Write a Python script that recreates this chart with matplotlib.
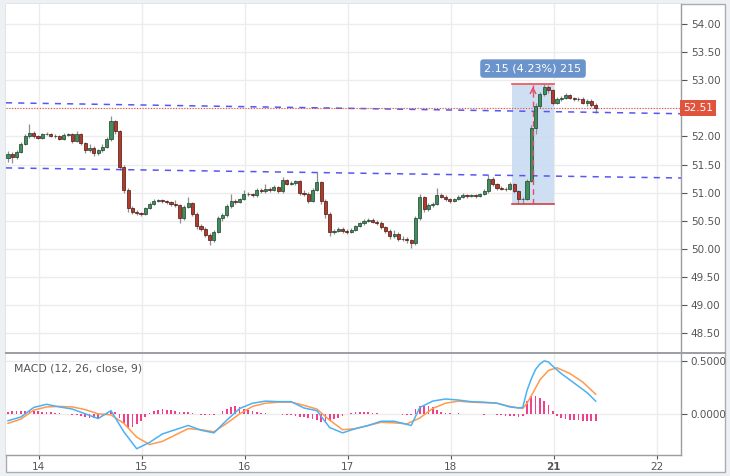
import matplotlib
matplotlib.use("Agg")
import matplotlib.pyplot as plt
from matplotlib.patches import Rectangle
import numpy as np

# ---------------- data (hourly bars) ----------------
opens = [51.62, 51.68, 51.64, 51.72, 51.86, 52.00, 52.06, 52.00, 51.98, 52.04,
         52.05, 52.01, 52.00, 51.96, 52.03, 52.04, 51.92, 52.04, 51.88, 51.75,
         51.80, 51.70, 51.75, 51.82, 51.95, 52.27, 52.10, 51.45, 51.05, 50.72,
         50.66, 50.63, 50.62, 50.72, 50.80, 50.85, 50.86, 50.85, 50.83, 50.80,
         50.78, 50.55, 50.75, 50.82, 50.62, 50.40, 50.36, 50.25, 50.15, 50.30,
         50.55, 50.60, 50.76, 50.85, 50.84, 50.88, 50.98, 50.97, 50.95, 51.05,
         51.02, 51.07, 51.04, 51.10, 51.02, 51.22, 51.16, 51.17, 51.20, 51.00,
         50.98, 50.85, 51.05, 51.18, 50.85, 50.62, 50.30, 50.31, 50.36, 50.32,
         50.30, 50.34, 50.40, 50.45, 50.50, 50.52, 50.48, 50.45, 50.38, 50.32,
         50.22, 50.26, 50.17, 50.18, 50.15, 50.10, 50.55, 50.92, 50.70, 50.78,
         50.80, 50.96, 50.93, 50.88, 50.85, 50.88, 50.93, 50.96, 50.94, 50.95,
         50.94, 50.97, 51.02, 51.25, 51.15, 51.08, 51.07, 51.06, 51.15, 51.03,
         50.88, 50.88, 51.20, 52.15, 52.55, 52.75, 52.88, 52.82, 52.60, 52.66,
         52.69, 52.74, 52.69, 52.67, 52.66, 52.60, 52.64, 52.56]
closes = [51.68, 51.64, 51.72, 51.86, 52.00, 52.06, 52.00, 51.98, 52.04, 52.05,
          52.01, 52.00, 51.96, 52.03, 52.04, 51.92, 52.04, 51.88, 51.75, 51.80,
          51.70, 51.75, 51.82, 51.95, 52.27, 52.10, 51.45, 51.05, 50.72, 50.66,
          50.63, 50.62, 50.72, 50.80, 50.85, 50.86, 50.85, 50.83, 50.80, 50.78,
          50.55, 50.75, 50.82, 50.62, 50.40, 50.36, 50.25, 50.15, 50.30, 50.55,
          50.60, 50.76, 50.85, 50.84, 50.88, 50.98, 50.97, 50.95, 51.05, 51.02,
          51.07, 51.04, 51.10, 51.02, 51.22, 51.16, 51.17, 51.20, 51.00, 50.98,
          50.85, 51.05, 51.18, 50.85, 50.62, 50.30, 50.31, 50.36, 50.32, 50.30,
          50.34, 50.40, 50.45, 50.50, 50.52, 50.48, 50.45, 50.38, 50.32, 50.22,
          50.26, 50.17, 50.18, 50.15, 50.10, 50.55, 50.92, 50.70, 50.78, 50.80,
          50.96, 50.93, 50.88, 50.85, 50.88, 50.93, 50.96, 50.94, 50.95, 50.94,
          50.97, 51.02, 51.25, 51.15, 51.08, 51.07, 51.06, 51.15, 51.03, 50.88,
          50.88, 51.20, 52.15, 52.55, 52.75, 52.88, 52.82, 52.60, 52.66, 52.69,
          52.74, 52.69, 52.67, 52.66, 52.60, 52.64, 52.56, 52.51]
highs = [51.74, 51.72, 51.76, 51.90, 52.05, 52.22, 52.09, 52.03, 52.07, 52.08,
         52.07, 52.04, 52.02, 52.06, 52.07, 52.06, 52.09, 52.06, 51.91, 51.86,
         51.83, 51.78, 51.86, 51.99, 52.37, 52.30, 52.12, 51.50, 51.08, 50.76,
         50.69, 50.66, 50.75, 50.83, 50.88, 50.89, 50.88, 50.87, 50.85, 50.86,
         50.80, 50.78, 50.93, 50.84, 50.65, 50.44, 50.39, 50.28, 50.33, 50.58,
         50.64, 50.79, 50.98, 50.88, 50.91, 51.05, 51.01, 51.00, 51.08, 51.08,
         51.15, 51.10, 51.13, 51.12, 51.28, 51.24, 51.20, 51.23, 51.22, 51.04,
         51.01, 51.08, 51.37, 51.20, 50.88, 50.65, 50.35, 50.39, 50.39, 50.35,
         50.37, 50.43, 50.48, 50.53, 50.55, 50.55, 50.51, 50.49, 50.41, 50.35,
         50.33, 50.29, 50.22, 50.21, 50.18, 50.58, 50.97, 50.94, 50.81, 50.84,
         51.08, 50.99, 50.95, 50.90, 50.91, 50.96, 50.99, 50.98, 50.98, 50.97,
         51.00, 51.06, 51.32, 51.27, 51.17, 51.11, 51.10, 51.18, 51.17, 51.05,
         50.92, 51.24, 52.20, 52.60, 52.80, 52.94, 52.92, 52.84, 52.70, 52.72,
         52.77, 52.76, 52.71, 52.70, 52.70, 52.67, 52.66, 52.59]
lows = [51.55, 51.52, 51.60, 51.70, 51.84, 51.98, 51.97, 51.95, 51.96, 52.02,
        51.99, 51.97, 51.93, 51.94, 52.00, 51.89, 51.90, 51.84, 51.70, 51.72,
        51.66, 51.67, 51.72, 51.80, 51.92, 52.05, 51.40, 51.00, 50.66, 50.62,
        50.60, 50.59, 50.60, 50.70, 50.78, 50.83, 50.82, 50.80, 50.77, 50.75,
        50.45, 50.52, 50.72, 50.58, 50.36, 50.32, 50.20, 50.06, 50.12, 50.28,
        50.50, 50.57, 50.73, 50.80, 50.81, 50.86, 50.94, 50.92, 50.93, 50.99,
        51.00, 51.01, 51.02, 50.99, 51.00, 51.13, 51.13, 51.14, 50.96, 50.94,
        50.82, 50.83, 51.03, 50.80, 50.55, 50.22, 50.27, 50.29, 50.28, 50.27,
        50.28, 50.32, 50.38, 50.43, 50.48, 50.45, 50.42, 50.35, 50.28, 50.18,
        50.19, 50.13, 50.14, 50.11, 50.02, 50.07, 50.52, 50.66, 50.67, 50.75,
        50.78, 50.90, 50.85, 50.82, 50.83, 50.86, 50.91, 50.91, 50.92, 50.91,
        50.92, 50.95, 51.00, 51.12, 51.05, 51.04, 51.03, 51.04, 51.00, 50.80,
        50.79, 50.86, 51.18, 52.05, 52.50, 52.72, 52.78, 52.56, 52.57, 52.63,
        52.66, 52.66, 52.64, 52.63, 52.57, 52.55, 52.52, 52.42]

# MACD (12, 26, close, 9) values
macd_bars = [0, 3, 6, 9, 12, 15, 18, 21, 24, 27, 30, 33, 36, 39, 42, 45, 48, 51,
             54, 57, 60, 63, 66, 69, 72, 75, 78, 81, 84, 87, 90, 94, 96, 99, 102,
             105, 108, 111, 114, 117, 119, 120, 121, 122, 123, 124, 125, 126, 127,
             129, 132, 135, 137]
macd_vals = [-0.065, -0.03, 0.06, 0.09, 0.065, 0.045, 0.0, -0.045, 0.03, -0.17,
             -0.33, -0.27, -0.19, -0.15, -0.11, -0.155, -0.18, -0.06, 0.05, 0.10,
             0.12, 0.115, 0.115, 0.055, 0.03, -0.13, -0.18, -0.14, -0.11, -0.07,
             -0.07, -0.11, 0.06, 0.12, 0.14, 0.13, 0.115, 0.11, 0.10, 0.065, 0.055,
             0.06, 0.22, 0.33, 0.42, 0.47, 0.50, 0.49, 0.45, 0.38, 0.29, 0.20, 0.12]
signal_bars = [0, 3, 6, 9, 12, 15, 18, 21, 24, 27, 30, 33, 36, 39, 42, 45, 48, 51,
               54, 57, 60, 63, 66, 69, 72, 75, 78, 81, 84, 87, 90, 93, 96, 99, 102,
               105, 108, 111, 114, 117, 120, 121, 122, 124, 126, 128, 131, 134, 137]
signal_vals = [-0.09, -0.05, 0.035, 0.065, 0.07, 0.065, 0.04, 0.0, -0.01, -0.09,
               -0.22, -0.29, -0.26, -0.20, -0.14, -0.15, -0.17, -0.09, 0.0, 0.07,
               0.10, 0.11, 0.11, 0.08, 0.045, -0.06, -0.15, -0.14, -0.11, -0.08,
               -0.085, -0.095, -0.04, 0.05, 0.10, 0.12, 0.11, 0.105, 0.10, 0.07,
               0.05, 0.10, 0.17, 0.32, 0.41, 0.435, 0.38, 0.30, 0.185]
hist_vals = [0.02, 0.025, 0.03, 0.03, 0.03, 0.03, 0.025, 0.025, 0.02, 0.02,
             0.015, 0.01, 0.005, 0.0,
             -0.005, -0.01, -0.015, -0.02, -0.03, -0.035, -0.04, -0.035, -0.02,
             0.01, 0.03, 0.02,
             -0.04, -0.09, -0.13, -0.12, -0.10, -0.07, -0.03,
             0.01, 0.03, 0.04, 0.045, 0.04, 0.035, 0.03, 0.02, 0.02, 0.015, 0.01,
             -0.005, -0.01, -0.015, -0.015, -0.01, 0.0,
             0.03, 0.05, 0.06, 0.07, 0.065, 0.05, 0.035, 0.025,
             0.015, 0.01, 0.005, 0.0, -0.005, -0.005,
             -0.01, -0.01, -0.015, -0.02, -0.03, -0.03,
             -0.04, -0.05, -0.06, -0.08, -0.08, -0.07, -0.05,
             -0.035, -0.02, 0.0, 0.01, 0.02, 0.02,
             0.02, 0.015, 0.01, 0.005, 0.0, 0.0, -0.005, 0.0, -0.005, -0.01, -0.01, -0.015,
             0.05, 0.07, 0.075, 0.07, 0.06, 0.04, 0.02,
             0.01, 0.005, 0.0, 0.005, 0.0,
             0.0, -0.005, 0.0, -0.005, -0.01, 0.0, -0.005, -0.01, -0.015, -0.02, -0.02,
             -0.025, -0.03, -0.02,
             0.12, 0.17, 0.165, 0.15, 0.12, 0.08, 0.03,
             -0.02, -0.04, -0.05, -0.055, -0.06, -0.06, -0.065, -0.065, -0.07, -0.065]

day_labels = ["14", "15", "16", "17", "18", "21", "22"]
day_positions = [7.2, 31.2, 55.2, 79.2, 103.2, 127.2, 151.2]
price_ticks = [48.5, 49.0, 49.5, 50.0, 50.5, 51.0, 51.5, 52.0, 52.5, 53.0, 53.5, 54.0]
macd_ticks = [0.0, 0.5]

last_price = 52.51
upper_trend = [(-0.47, 52.60), (156.9, 52.405)]
lower_trend = [(-0.47, 51.44), (156.9, 51.26)]
measure_x = (117.5, 127.3)
measure_y = (50.79, 52.94)
measure_mid = 122.4
measure_text = "2.15 (4.23%) 215"

# ---------------- figure ----------------
W, H = 730, 476
fig = plt.figure(figsize=(W / 100, H / 100), dpi=100)
fig.patch.set_facecolor("#eef1f4")

def fx(px):
    return px / W

def fy(py):
    return 1 - py / H

fig.patches.append(Rectangle((fx(6), fy(472)), fx(725) - fx(6), fy(4) - fy(472),
                             transform=fig.transFigure, facecolor="white",
                             edgecolor="#a8adb3", lw=1.0, zorder=-10))

ax = fig.add_axes([fx(6), fy(352), fx(681) - fx(6), fy(4) - fy(352)])
axm = fig.add_axes([fx(6), fy(455), fx(681) - fx(6), fy(354) - fy(455)])
ax.set_zorder(2)
axm.set_zorder(2)

xs = np.arange(len(closes))
o = np.array(opens); c = np.array(closes); h = np.array(highs); l = np.array(lows)
up = c >= o
xmin, xmax = -0.47, 156.9

grid_c = "#ececec"
for a in (ax, axm):
    a.set_xlim(xmin, xmax)
    a.set_facecolor("white")
    for sp in a.spines.values():
        sp.set_color("#9a9ea3")
        sp.set_linewidth(1.0)
    a.spines["left"].set_visible(False)
    a.spines["top"].set_visible(False)
    for d in day_positions:
        a.axvline(d, color=grid_c, lw=1.0, zorder=0)
    a.yaxis.tick_right()
    a.tick_params(axis="y", colors="#555555", labelsize=7.5, length=4, width=0.8,
                  direction="out", pad=3)

# price pane
ax.set_ylim(48.16, 54.36)
ax.set_yticks(price_ticks)
ax.set_yticklabels(["" if abs(t - last_price) < 0.1 else "%.2f" % t for t in price_ticks])
for t in price_ticks:
    ax.axhline(t, color=grid_c, lw=1.0, zorder=0)
ax.set_xticks([])
ax.spines["bottom"].set_visible(False)

ax.plot([p[0] for p in upper_trend], [p[1] for p in upper_trend],
        color="#5656f2", lw=1.1, ls=(0, (4, 4)), zorder=3)
ax.plot([p[0] for p in lower_trend], [p[1] for p in lower_trend],
        color="#5656f2", lw=1.1, ls=(0, (4, 4)), zorder=3)
ax.axhline(last_price, color="#e0533d", lw=0.8, ls=(0, (1, 1.5)), zorder=3)

# measure rectangle
ax.add_patch(Rectangle((measure_x[0], measure_y[0]), measure_x[1] - measure_x[0],
                       measure_y[1] - measure_y[0], facecolor="#c9dcf3",
                       edgecolor="none", alpha=0.9, zorder=1))
ax.plot(measure_x, [measure_y[1]] * 2, color="#f05050", lw=1.2, zorder=4)
ax.plot(measure_x, [measure_y[0]] * 2, color="#d04040", lw=1.2, zorder=4)
ax.plot([measure_mid, measure_mid], [measure_y[0], measure_y[1] - 0.03],
        color="#e84a5f", lw=1.0, ls=(0, (4, 3)), zorder=4)
ax.annotate("", xy=(measure_mid, measure_y[1]), xytext=(measure_mid, measure_y[1] - 0.2),
            arrowprops=dict(arrowstyle="->", color="#e84a5f", lw=1.0), zorder=5)
ax.text(measure_mid, 53.21, measure_text, ha="center", va="center", fontsize=8,
        color="white", zorder=6,
        bbox=dict(boxstyle="round,pad=0.38,rounding_size=0.3", fc="#6b93cc", ec="none"))

# candles
ax.vlines(xs, l, h, color="#8f8f8f", lw=0.9, zorder=2)
bodies_bottom = np.minimum(o, c)
bodies_h = np.maximum(np.abs(c - o), 0.012)
ax.bar(xs[up], bodies_h[up], bottom=bodies_bottom[up], width=0.72,
       color="#3f8f5e", edgecolor="#1d3f2b", lw=0.5, zorder=3)
ax.bar(xs[~up], bodies_h[~up], bottom=bodies_bottom[~up], width=0.72,
       color="#b23a2a", edgecolor="#4a1610", lw=0.5, zorder=3)

ax.text(1.003, last_price, "%.2f" % last_price, transform=ax.get_yaxis_transform(),
        ha="left", va="center", fontsize=7.5, color="white", zorder=10, clip_on=False,
        bbox=dict(boxstyle="square,pad=0.3", fc="#e0533d", ec="none"))

# MACD pane
axm.set_ylim(-0.389, 0.565)
axm.set_yticks(macd_ticks)
axm.set_yticklabels(["%.4f" % t for t in macd_ticks])
for t in macd_ticks:
    axm.axhline(t, color=grid_c, lw=1.0, zorder=0)
axm.bar(xs, hist_vals, width=0.4, color="#f0408c", zorder=2)
axm.plot(signal_bars, signal_vals, color="#ff9a4d", lw=1.1, zorder=3)
axm.plot(macd_bars, macd_vals, color="#4cb0f5", lw=1.1, zorder=4)
axm.text(0.012, 0.86, "MACD (12, 26, close, 9)", transform=axm.transAxes,
         fontsize=7.8, color="#555555", ha="left", va="center")

axm.set_xticks(day_positions)
axm.set_xticklabels(day_labels)
axm.tick_params(axis="x", colors="#555555", labelsize=7.5, length=3, width=0.8, pad=2)
for lab in axm.get_xticklabels():
    if lab.get_text() == "21":
        lab.set_fontweight("bold")

fig.add_artist(plt.Line2D([fx(6), fx(725)], [fy(353), fy(353)],
                          transform=fig.transFigure, color="#9a9ea3", lw=1.4, zorder=5))

fig.savefig("out.png", dpi=100, facecolor=fig.get_facecolor())
